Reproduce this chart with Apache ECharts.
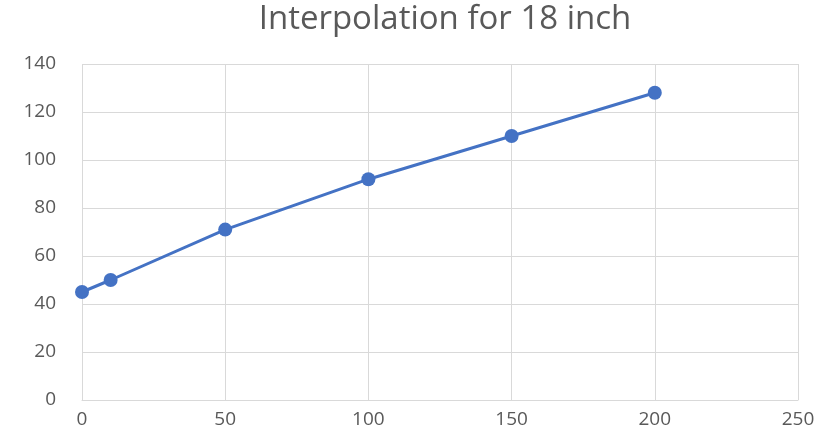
<!DOCTYPE html>
<html>
<head>
<meta charset="utf-8">
<script src="https://cdn.jsdelivr.net/npm/echarts@6/dist/echarts.min.js"></script>
<style>
  html, body { margin: 0; padding: 0; background: #fff; }
  #chart { width: 820px; height: 443px; }
</style>
</head>
<body>
<div id="chart"></div>
<script>
var xValues = [0, 10, 50, 100, 150, 200];
var yValues = [45, 50, 71, 92, 110, 128];

var points = xValues.map(function (x, i) { return [x, yValues[i]]; });

var chart = echarts.init(document.getElementById('chart'));
var labelStyle = { color: '#595959', fontSize: 19, fontFamily: 'Open Sans, sans-serif' };

chart.setOption({
    animation: false,
    title: {
        text: 'Interpolation for 18 inch',
        left: 440,
        textAlign: 'center',
        top: -2,
        textStyle: { color: '#595959', fontSize: 33, fontWeight: 'normal', fontFamily: 'Open Sans, sans-serif' }
    },
    grid: { left: 82, right: 22, top: 64, bottom: 43, containLabel: false },
    xAxis: {
        type: 'value',
        min: 0, max: 250, interval: 50,
        axisLine: { show: true, lineStyle: { color: '#d9d9d9', width: 1 } },
        axisTick: { show: false },
        axisLabel: Object.assign({ margin: 10 }, labelStyle),
        splitLine: { show: true, lineStyle: { color: '#d9d9d9', width: 1 } }
    },
    yAxis: {
        type: 'value',
        min: 0, max: 140, interval: 20,
        axisLine: { show: false },
        axisTick: { show: false },
        axisLabel: Object.assign({ margin: 26 }, labelStyle),
        splitLine: { show: true, lineStyle: { color: '#d9d9d9', width: 1 } }
    },
    series: [{
        type: 'line',
        data: points,
        symbol: 'circle',
        symbolSize: 14,
        itemStyle: { color: '#4472c4' },
        lineStyle: { color: '#4472c4', width: 3 }
    }]
});
</script>
</body>
</html>
